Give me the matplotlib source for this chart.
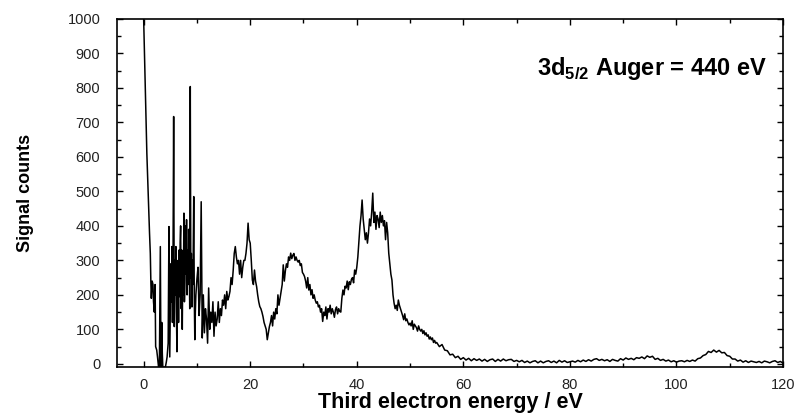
import numpy as np
import matplotlib
matplotlib.use('Agg')
import matplotlib.pyplot as plt
from matplotlib.ticker import MultipleLocator

# spectrum below 10 eV, read point by point (irregular spikes)
energy_low = [0.0, 0.15, 0.3, 0.45, 0.6, 0.75, 0.94, 1.1, 1.25, 1.35, 1.44, 1.6, 1.75, 1.85, 2.0, 2.15,
              2.25, 2.45, 2.6, 2.8, 2.95, 3.13, 3.25, 3.4, 3.5, 3.6, 3.75, 3.9, 4.07, 4.25, 4.4, 4.6,
              4.75, 4.9, 5.0, 5.1, 5.2, 5.3, 5.4, 5.5, 5.63, 5.75, 5.85, 5.95, 6.05, 6.15, 6.25, 6.35,
              6.45, 6.55, 6.65, 6.75, 6.85, 6.94, 7.05, 7.15, 7.25, 7.35, 7.45, 7.56, 7.65, 7.75, 7.85,
              7.95, 8.05, 8.15, 8.25, 8.35, 8.45, 8.55, 8.65, 8.75, 8.85, 8.95, 9.06, 9.15, 9.25, 9.4,
              9.5, 9.6, 9.7, 9.8]
counts_low = [1000, 900, 790, 700, 610, 540, 450, 380, 320, 240, 190, 240, 230, 180, 150, 230,
              50, 40, 20, -10, -10, 340, -10, 120, 30, -10, -10, -10, -10, 5, 20, 60,
              398, 20, 150, 290, 180, 340, 120, 250, 717, 108, 300, 200, 340, 150, 35, 260,
              300, 120, 330, 195, 350, 400, 160, 330, 100, 300, 200, 437, 180, 246, 400,
              260, 418, 200, 330, 230, 390, 300, 160, 804, 250, 320, 165, 300, 230, 485,
              200, 70, 150, 200]

# 10 - 54.8 eV, 0.2 eV steps (one row per eV)
counts_mid = [
    246, 280, 140, 200, 470,
    75, 200, 90, 160, 130,
    60, 220, 100, 150, 120,
    180, 80, 150, 110, 130,
    180, 120, 160, 140, 185,
    170, 200, 160, 210, 185,
    195, 210, 250, 230, 270,
    320, 340, 310, 290, 300,
    260, 300, 250, 280, 300,
    300, 320, 350, 408, 360,
    350, 300, 243, 230, 272,
    240, 224, 200, 180, 166,
    160, 150, 137, 120, 110,
    100, 70, 90, 108, 120,
    140, 110, 150, 130, 160,
    145, 200, 170, 190, 210,
    230, 287, 240, 270, 290,
    280, 310, 300, 321, 305,
    315, 320, 300, 310, 300,
    295, 300, 285, 290, 265,
    260, 253, 240, 220, 250,
    214, 230, 200, 215, 190,
    200, 185, 176, 180, 165,
    170, 150, 160, 123, 150,
    140, 165, 130, 160, 150,
    170, 145, 160, 150, 135,
    157, 165, 145, 160, 152,
    150, 190, 214, 200, 225,
    220, 240, 215, 238, 230,
    245, 250, 235, 272, 260,
    280, 310, 355, 400, 430,
    475, 420, 390, 360, 380,
    350, 380, 420, 400, 440,
    495, 410, 440, 390, 430,
    420, 395, 440, 410, 430,
    400, 415, 360, 410, 380,
    321, 290, 260, 243, 200,
    176, 160, 170, 155, 185,
    170, 160, 150, 140, 128,
    145, 125, 130, 120, 113,
    118, 110, 125, 100, 115,
    110, 105, 95, 110, 100,
    95, 100, 88, 96, 84,
    90, 80, 84, 72, 78,
    70, 75, 62, 68, 60,
]
energy_mid = np.linspace(10, 54.8, len(counts_mid))

# 55 - 120 eV, 0.5 eV steps (4 values per 2 eV)
counts_high = [
    62, 50, 56, 40,
    38, 26, 28, 18,
    22, 13, 18, 11,
    16, 9, 15, 10,
    14, 8, 13, 7,
    12, 14, 7, 13,
    8, 14, 9, 12,
    13, 7, 10, 6,
    10, 4, 8, 3,
    7, 9, 3, 8,
    3, 7, 9, 4,
    8, 3, 10, 5,
    9, 4, 6, 8,
    5, 10, 6, 11,
    7, 12, 8, 13,
    15, 10, 13, 9,
    12, 7, 13, 10,
    8, 15, 11, 17,
    13, 16, 12, 18,
    16, 20, 15, 23,
    19, 22, 13, 16,
    10, 13, 8, 11,
    6, 9, 5, 8,
    9, 6, 10, 7,
    11, 8, 15, 17,
    24, 27, 36, 33,
    40, 34, 39, 32,
    33, 24, 22, 14,
    14, 8, 11, 5,
    9, 4, 8, 6,
    4, 7, 3, 8,
    6, 3, 7, 9,
    4, 7, 2,
]
energy_high = np.linspace(55, 120, len(counts_high))

energy = np.concatenate([energy_low, energy_mid, energy_high])
counts = np.concatenate([counts_low, counts_mid, counts_high])

plt.rcParams['font.family'] = ['Liberation Sans', 'DejaVu Sans']
plt.rcParams['mathtext.fontset'] = 'custom'
plt.rcParams['mathtext.rm'] = 'Liberation Sans:bold'
plt.rcParams['mathtext.bf'] = 'Liberation Sans:bold'

fig = plt.figure(figsize=(7.96, 4.17), dpi=100)
ax = fig.add_axes([0.147, 0.12, 0.8367, 0.8346])

ax.plot(energy, counts, color='black', linewidth=1.1)

ax.set_xlim(-5, 120)
ax.set_ylim(-9, 1000)
ax.xaxis.set_major_locator(MultipleLocator(20))
ax.xaxis.set_minor_locator(MultipleLocator(10))
ax.yaxis.set_major_locator(MultipleLocator(100))
ax.yaxis.set_minor_locator(MultipleLocator(50))
ax.tick_params(which='both', direction='in', top=True, right=True, width=1.0, colors='black')
ax.tick_params(which='major', length=4)
ax.tick_params(which='minor', length=3)
ax.tick_params(axis='x', which='major', pad=8, labelsize=10.5, labelcolor='#222222')
ax.tick_params(axis='y', which='major', pad=12, labelsize=10.5, labelcolor='#222222')
for sp in ax.spines.values():
    sp.set_linewidth(1.2)

ax.set_xlabel('Third electron energy / eV', fontsize=15.5, fontweight='bold', labelpad=0)
ax.set_ylabel('Signal counts', fontsize=13, fontweight='bold', labelpad=24)

ax.text(0.976, 0.84, r'3d$_{\mathbf{5/2}}$ Auger = 440 eV', transform=ax.transAxes,
        ha='right', va='baseline', fontsize=17, fontweight='bold')

fig.savefig('out.png', dpi=100)
